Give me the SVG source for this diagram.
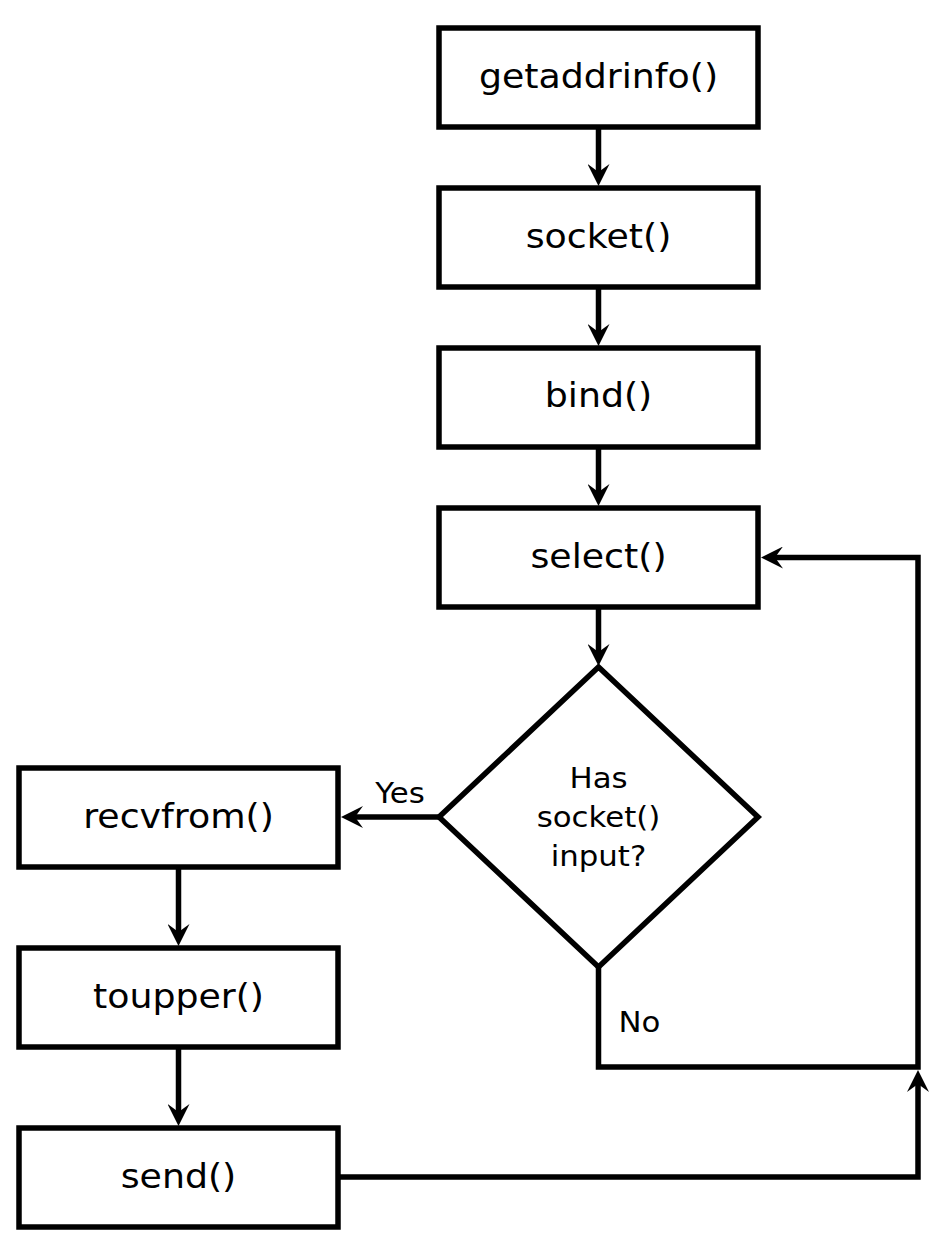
<svg xmlns="http://www.w3.org/2000/svg" width="949" height="1252" viewBox="0 0 949 1252">
<style>
.box{fill:#fff;stroke:#000;stroke-width:5.5}
.t{font-family:"DejaVu Sans",sans-serif;font-size:33px;text-anchor:middle;fill:#000}
.s{font-family:"DejaVu Sans",sans-serif;font-size:28px;text-anchor:middle;fill:#000}
.c{fill:none;stroke:#000;stroke-width:5.5}
</style>
<defs>
<marker id="ah" viewBox="0 0 22 22" refX="14" refY="11" markerWidth="22" markerHeight="22" markerUnits="userSpaceOnUse" orient="auto">
<path d="M22,11 L0,0 L8,11 L0,22 Z" fill="#000"/>
</marker>
</defs>
<rect width="949" height="1252" fill="#fff"/>
<g id="connectors">
<path class="c" d="M598.5,127 V178" marker-end="url(#ah)"/>
<path class="c" d="M598.5,287 V338" marker-end="url(#ah)"/>
<path class="c" d="M598.5,447 V498" marker-end="url(#ah)"/>
<path class="c" d="M598.5,607 V658" marker-end="url(#ah)"/>
<path class="c" d="M439,817 H349" marker-end="url(#ah)"/>
<path class="c" d="M178.5,867 V938" marker-end="url(#ah)"/>
<path class="c" d="M178.5,1047 V1118" marker-end="url(#ah)"/>
<path class="c" d="M598.5,967 V1067 H918 V557.5 H769" marker-end="url(#ah)"/>
<path class="c" d="M338,1177 H918 V1078" marker-end="url(#ah)"/>
<text class="s" transform="matrix(1.1 0 0 1 400 803)">Yes</text>
<text class="s" transform="matrix(1.1 0 0 1 639.5 1032)">No</text>
</g>
<g id="n-getaddrinfo"><rect class="box" x="439" y="28" width="319" height="99"/><text class="t" transform="matrix(1.1 0 0 1 598.5 88)">getaddrinfo()</text></g>
<g id="n-socket"><rect class="box" x="439" y="188" width="319" height="99"/><text class="t" transform="matrix(1.1 0 0 1 598.5 248)">socket()</text></g>
<g id="n-bind"><rect class="box" x="439" y="348" width="319" height="99"/><text class="t" transform="matrix(1.1 0 0 1 598.5 407)">bind()</text></g>
<g id="n-select"><rect class="box" x="439" y="508" width="319" height="99"/><text class="t" transform="matrix(1.1 0 0 1 598.5 568)">select()</text></g>
<g id="n-decision"><polygon class="box" points="598.5,667 758,817 598.5,967 439,817"/><text class="s" transform="matrix(1.1 0 0 1 598.5 788)">Has</text><text class="s" transform="matrix(1.1 0 0 1 598.5 827)">socket()</text><text class="s" transform="matrix(1.1 0 0 1 598.5 866)">input?</text></g>
<g id="n-recvfrom"><rect class="box" x="19" y="768" width="319" height="99"/><text class="t" transform="matrix(1.1 0 0 1 178.5 828)">recvfrom()</text></g>
<g id="n-toupper"><rect class="box" x="19" y="948" width="319" height="99"/><text class="t" transform="matrix(1.1 0 0 1 178.5 1008)">toupper()</text></g>
<g id="n-send"><rect class="box" x="19" y="1128" width="319" height="99"/><text class="t" transform="matrix(1.1 0 0 1 178.5 1188)">send()</text></g>
</svg>
